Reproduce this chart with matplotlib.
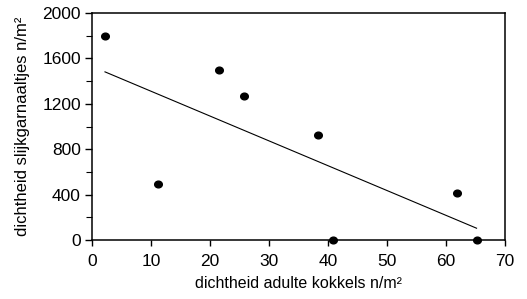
import numpy as np
import matplotlib
matplotlib.use('Agg')
import matplotlib.pyplot as plt
from matplotlib.path import Path
from matplotlib.ticker import MultipleLocator

# kokkels (x) vs slijkgarnaaltjes (y)
kokkels = [2.2, 11.2, 21.5, 25.8, 38.4, 40.9, 61.8, 65.2]
garnaaltjes = [1800, 490, 1500, 1270, 925, 0, 417, 0]

x_ticks = [0, 10, 20, 30, 40, 50, 60, 70]
y_ticks = [0, 400, 800, 1200, 1600, 2000]

plt.rcParams['font.family'] = ['Liberation Sans', 'DejaVu Sans']

# dots in the original are slightly wider than tall
circ = Path.unit_circle()
dot = Path(circ.vertices * [1.0, 0.88], circ.codes)

fig = plt.figure(figsize=(5.27, 2.99), dpi=100)
ax = fig.add_axes([0.1746, 0.197, 0.7834, 0.7595])

# regression line over the range of the data
slope, intercept = np.polyfit(kokkels, garnaaltjes, 1)
xl = np.array([min(kokkels), max(kokkels)])
ax.plot(xl, slope * xl + intercept, color='black', lw=0.8)

ax.plot(kokkels, garnaaltjes, linestyle='none', marker=dot, color='black',
        markersize=5.5, clip_on=False, zorder=3)

ax.set_xlim(0, 70)
ax.set_ylim(0, 2000)
ax.set_xticks(x_ticks)
ax.set_yticks(y_ticks)
ax.yaxis.set_minor_locator(MultipleLocator(200))
ax.tick_params(axis='both', which='major', labelsize=12.5, width=1, direction='out')
ax.tick_params(axis='x', which='major', length=4, pad=6)
ax.tick_params(axis='y', which='major', length=5, pad=3)
ax.tick_params(axis='y', which='minor', length=4, width=0.8, direction='out')
for s in ax.spines.values():
    s.set_linewidth(1.1)

ax.set_xlabel('dichtheid adulte kokkels n/m²', fontsize=11.5, labelpad=5)
ax.set_ylabel('dichtheid slijkgarnaaltjes n/m²', fontsize=12, labelpad=9)

fig.savefig('out.png', dpi=100)
